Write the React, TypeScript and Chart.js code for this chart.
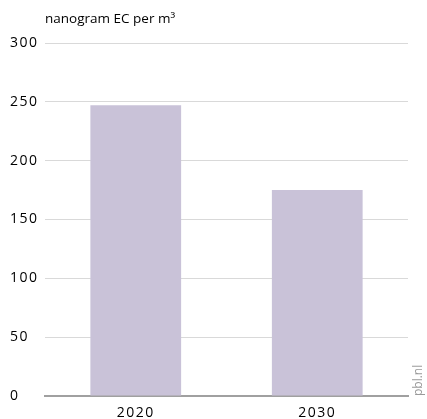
import React, { useEffect, useRef } from "react";
import { Chart, registerables } from "chart.js";

Chart.register(...registerables);

const categories = ["2020", "2030"];
const values = [247, 175];
const yTicks = [0, 50, 100, 150, 200, 250, 300];
const unitLabel = "nanogram EC per m\u00B3";
const sourceLabel = "pbl.nl";

const FONT = "'Open Sans', 'Noto Sans', sans-serif";

const spacingPlugin = {
  id: "spacing",
  beforeLayout(chart: any) {
    chart.ctx.letterSpacing = "1.5px";
  },
  beforeDraw(chart: any) {
    chart.ctx.letterSpacing = "1.5px";
  },
};

const textPlugin = {
  id: "texts",
  afterDraw(chart: any) {
    const ctx = chart.ctx;
    const area = chart.chartArea;
    ctx.save();
    ctx.letterSpacing = "0px";
    ctx.fillStyle = "#000";
    ctx.font = `13.5px ${FONT}`;
    ctx.textAlign = "left";
    ctx.textBaseline = "alphabetic";
    ctx.fillText(unitLabel, area.left, 23);
    ctx.fillStyle = "#9a9a9a";
    ctx.font = `12px ${FONT}`;
    ctx.translate(chart.width - 5, area.bottom);
    ctx.rotate(-Math.PI / 2);
    ctx.textAlign = "left";
    ctx.fillText(sourceLabel, 0, 0);
    ctx.restore();
  },
};

export default function App() {
  const ref = useRef<HTMLCanvasElement>(null);
  useEffect(() => {
    document.body.style.margin = "0";
    const chart = new Chart(ref.current as HTMLCanvasElement, {
      type: "bar",
      data: {
        labels: categories,
        datasets: [
          {
            data: values,
            backgroundColor: "#c9c2d8",
            barPercentage: 0.5,
            categoryPercentage: 1,
          },
        ],
      },
      options: {
        animation: false,
        responsive: false,
        layout: { padding: { left: 10, right: 19, top: 43, bottom: 0 } },
        plugins: { legend: { display: false }, tooltip: { enabled: false } },
        scales: {
          x: {
            afterFit: (axis: any) => {
              axis.height = 23;
            },
            grid: { display: false, drawTicks: false },
            border: { display: true, color: "#a0a0a0", width: 2 },
            ticks: { color: "#000", font: { family: FONT, size: 14 }, padding: 9 },
          },
          y: {
            min: 0,
            max: 300,
            afterFit: (axis: any) => {
              axis.width = 35;
            },
            afterBuildTicks: (axis: any) => {
              axis.ticks = yTicks.map((v) => ({ value: v }));
            },
            grid: {
              color: (c: any) => (c.tick && c.tick.value === 0 ? "rgba(0,0,0,0)" : "#d9d9d9"),
              lineWidth: 1,
              drawTicks: false,
            },
            border: { display: false },
            ticks: {
              color: "#000",
              font: { family: FONT, size: 14 },
              padding: 4,
              crossAlign: "far",
            },
          },
        },
      },
      plugins: [spacingPlugin, textPlugin],
    });
    return () => chart.destroy();
  }, []);
  return (
    <div style={{ width: 427, height: 419 }}>
      <canvas ref={ref} width={427} height={419} />
    </div>
  );
}
